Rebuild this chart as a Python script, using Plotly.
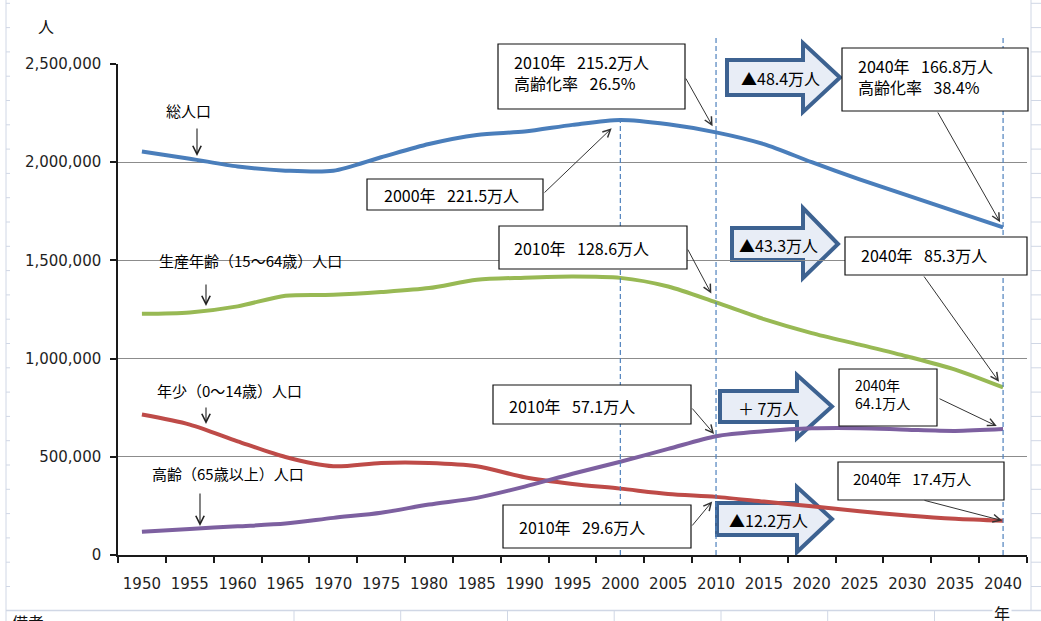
import plotly.graph_objects as go

# ---------------- data ----------------
YEARS = [1950, 1955, 1960, 1965, 1970, 1975, 1980, 1985, 1990, 1995,
         2000, 2005, 2010, 2015, 2020, 2025, 2030, 2035, 2040]
YEAR_LABELS = [str(y) for y in YEARS]
TOTAL = [2054000, 2018000, 1978000, 1957000, 1956000, 2025000, 2093000, 2139000, 2156000, 2190000,
         2215000, 2193000, 2152000, 2092000, 2000000, 1913000, 1831000, 1750000, 1668000]
WORKING = [1228000, 1235000, 1266000, 1320000, 1325000, 1339000, 1359000, 1401000, 1412000, 1418000,
           1411000, 1367000, 1286000, 1201000, 1130000, 1071000, 1011000, 944000, 853000]
YOUTH = [715000, 664000, 579000, 499000, 452000, 469000, 469000, 452000, 396000, 362000,
         338000, 311000, 296000, 272000, 248000, 223000, 201000, 184000, 174000]
ELDERLY = [118000, 133000, 146000, 160000, 189000, 215000, 257000, 291000, 348000, 414000,
           475000, 540000, 605000, 630000, 645000, 646000, 638000, 632000, 641000]
Y_TICKS = [0, 500000, 1000000, 1500000, 2000000, 2500000]

SERIES_NAMES = ["総人口", "生産年齢（15～64歳）人口", "年少（0～14歳）人口", "高齢（65歳以上）人口"]
COLORS = ["#4A7EBB", "#98B954", "#BE4B48", "#7D60A0"]

# ---------------- geometry helpers (decorations only) ----------------
L, R, T, B = 118, 1027, 64, 555
XMIN, XMAX = 1947.5, 2042.5
YMAX = 2500000


def PX(x):
    return (x - L) / (R - L)


def PY(y):
    return (B - y) / (B - T)


def DX(x):
    return XMIN + (x - L) / (R - L) * (XMAX - XMIN)


def DY(y):
    return (B - y) / (B - T) * YMAX


JP = "Noto Sans CJK JP"
NUM = "DejaVu Sans"
SP = "\u2002\u00a0"

fig = go.Figure()
for name, vals, col in zip(SERIES_NAMES, [TOTAL, WORKING, YOUTH, ELDERLY], COLORS):
    fig.add_trace(go.Scatter(x=YEARS, y=vals, mode="lines", name=name,
                             line=dict(color=col, width=4, shape="spline", smoothing=0.8),
                             hoverinfo="skip", showlegend=False))

shapes = []
annotations = []

# spreadsheet cell lines behind the chart
SHEET = "#D0D7E5"
shapes.append(dict(type="line", xref="paper", yref="paper", x0=PX(6), x1=PX(6), y0=PY(0), y1=PY(621),
                   line=dict(color=SHEET, width=1), layer="below"))
shapes.append(dict(type="line", xref="paper", yref="paper", x0=PX(1031), x1=PX(1031), y0=PY(0), y1=PY(610),
                   line=dict(color=SHEET, width=1), layer="below"))
shapes.append(dict(type="line", xref="paper", yref="paper", x0=PX(6), x1=PX(1041), y0=PY(610.5), y1=PY(610.5),
                   line=dict(color=SHEET, width=1.5), layer="below"))
row = 3.3
while row < 609:
    shapes.append(dict(type="line", xref="paper", yref="paper", x0=PX(6), x1=PX(10), y0=PY(row), y1=PY(row),
                       line=dict(color=SHEET, width=1), layer="below"))
    shapes.append(dict(type="line", xref="paper", yref="paper", x0=PX(1031), x1=PX(1041), y0=PY(row), y1=PY(row),
                       line=dict(color=SHEET, width=1), layer="below"))
    row += 24.3
for cx in [294, 400.7, 507.5, 614.2, 721, 827.7, 934.5]:
    shapes.append(dict(type="line", xref="paper", yref="paper", x0=PX(cx), x1=PX(cx), y0=PY(610), y1=PY(621),
                       line=dict(color=SHEET, width=1), layer="below"))

# dashed reference lines
DASH = dict(color="#4F81BD", width=1.2, dash="5px,3px")
i2000 = YEARS.index(2000)
shapes.append(dict(type="line", xref="x", yref="y", x0=2000, x1=2000, y0=0, y1=TOTAL[i2000], line=DASH, layer="above"))
for yr in (2010, 2040):
    shapes.append(dict(type="line", xref="x", yref="paper", x0=yr, x1=yr, y0=0, y1=PY(38), line=DASH, layer="above"))

# white patch behind working-age label (interrupts gridline)
shapes.append(dict(type="rect", xref="paper", yref="paper", x0=PX(142), x1=PX(377), y0=PY(250), y1=PY(270),
                   fillcolor="white", line=dict(width=0), layer="between"))

# block arrows: (body_left, body_right, body_top, body_bottom, head_top, head_bottom, tip_x, text, text_cx)
BLOCKS = [
    (727, 803, 60, 95, 43, 112, 840, "▲48.4万人", 780),
    (732, 803, 228, 260, 208, 278, 838, "▲43.3万人", 778),
    (720, 797, 391, 422, 375, 438, 832, "＋\u00a07万人", 768),
    (717, 797, 503, 535, 487, 552, 832, "▲12.2万人", 768),
]
for bl, br, bt, bb, ht, hb, tx, txt, tcx in BLOCKS:
    ty = (bt + bb) / 2
    pts = [(bl, bt), (br, bt), (br, ht), (tx, ty), (br, hb), (br, bb), (bl, bb)]
    path = "M " + " L ".join(f"{PX(a):.5f},{PY(b):.5f}" for a, b in pts) + " Z"
    shapes.append(dict(type="path", xref="paper", yref="paper", path=path,
                       fillcolor="#E8EDF6", line=dict(color="#3D6291", width=4), layer="between"))
    annotations.append(dict(xref="paper", yref="paper", x=PX(tcx), y=PY(ty + 1), text=txt, showarrow=False,
                            xanchor="center", yanchor="middle", font=dict(family=JP, size=16, color="#000")))

# callout boxes: (x0, x1, y0, y1, text_left, text_cy, text, size)
BOXES = [
    (367, 543, 179, 210, 382, 195, "2000年" + SP + "221.5万人", 16),
    (498, 685, 44, 109, 512, 73, "2010年" + SP + "215.2万人<br>高齢化率" + SP + "26.5%", 16),
    (842, 1028, 48, 111, 856, 76, "2040年" + SP + "166.8万人<br>高齢化率" + SP + "38.4%", 16),
    (499, 687, 226, 269, 512, 248, "2010年" + SP + "128.6万人", 16),
    (845, 1027, 237, 275, 859, 255, "2040年" + SP + "85.3万人", 16),
    (493, 691, 385, 424, 507, 406, "2010年" + SP + "57.1万人", 16),
    (839, 937, 369, 426, 853, 394, "2040年<br>64.1万人", 14),
    (838, 1004, 462, 500, 851, 478, "2040年\u00a0\u2002" + "17.4万人", 15),
    (503, 691, 505, 548, 517, 527, "2010年" + SP + "29.6万人", 16),
]
for x0, x1, y0, y1, tl, tcy, txt, fs in BOXES:
    shapes.append(dict(type="rect", xref="paper", yref="paper", x0=PX(x0), x1=PX(x1), y0=PY(y0), y1=PY(y1),
                       fillcolor="white", line=dict(color="#111", width=1.2), layer="above"))
    annotations.append(dict(xref="paper", yref="paper", x=PX(tl), y=PY(tcy), text=txt, showarrow=False,
                            xanchor="left", yanchor="middle", align="left",
                            font=dict(family=JP, size=fs, color="#000")))

# callout arrows to data points: (year, series, tail_x, tail_y, standoff)
CALLOUTS = [
    (2000, TOTAL, 543, 194, 12),
    (2010, TOTAL, 685, 77, 7),
    (2040, TOTAL, 937, 111, 6),
    (2010, WORKING, 687, 248, 10),
    (2040, WORKING, 923, 275, 7),
    (2010, ELDERLY, 691, 407, 3),
    (2040, ELDERLY, 938, 398, 7),
    (2040, YOUTH, 923, 500, 1),
    (2010, YOUTH, 691, 527, 6),
]
for yr, ser, tx, ty, so in CALLOUTS:
    annotations.append(dict(xref="x", yref="y", x=yr, y=ser[YEARS.index(yr)], axref="x", ayref="y",
                            ax=DX(tx), ay=DY(ty), text="", showarrow=True, arrowhead=5, arrowsize=1.5,
                            arrowwidth=1, arrowcolor="#333", standoff=so))

# series labels with short down arrows: (text_cx, text_cy, arrow_x, arrow_top, arrow_tip)
LABEL_POS = [
    (188, 110, 197, 127, 156),
    (250, 260, 206, 283, 306),
    (229, 390, 206, 406, 424),
    (228, 473, 200, 492, 526),
]
for name, (cx, cy, axx, atop, atip) in zip(SERIES_NAMES, LABEL_POS):
    annotations.append(dict(xref="paper", yref="paper", x=PX(cx), y=PY(cy), text=name, showarrow=False,
                            xanchor="center", yanchor="middle", font=dict(family=JP, size=15, color="#000")))
    annotations.append(dict(xref="paper", yref="paper", x=PX(axx), y=PY(atip), ax=0, ay=-(atip - atop),
                            text="", showarrow=True, arrowhead=5, arrowsize=1.5, arrowwidth=1.1,
                            arrowcolor="#222"))

# axis titles and sheet text
annotations.append(dict(xref="paper", yref="paper", x=PX(46), y=PY(26), text="人", showarrow=False,
                        xanchor="center", yanchor="middle", font=dict(family=JP, size=16, color="#111")))
annotations.append(dict(xref="paper", yref="paper", x=PX(1002), y=PY(613), text="年", showarrow=False,
                        xanchor="center", yanchor="middle", bgcolor="white",
                        font=dict(family=JP, size=16, color="#111")))
annotations.append(dict(xref="paper", yref="paper", x=PX(10), y=PY(622), text="備考", showarrow=False,
                        xanchor="left", yanchor="middle", font=dict(family=JP, size=16, color="#111")))

fig.update_layout(
    width=1041, height=621,
    margin=dict(l=L, r=1041 - R, t=T, b=621 - B, pad=0),
    paper_bgcolor="white", plot_bgcolor="white",
    shapes=shapes, annotations=annotations,
    xaxis=dict(range=[XMIN, XMAX], tickmode="array", tickvals=YEARS, ticktext=YEAR_LABELS,
               ticks="", showgrid=False, zeroline=False, showline=True, linecolor="#1a1a1a", linewidth=1.5,
               tickfont=dict(family=NUM, size=15, color="#1f1f1f"), ticklabelstandoff=14,
               minor=dict(tick0=XMIN, dtick=5, ticks="outside", ticklen=6, tickwidth=1.5, tickcolor="#1a1a1a",
                          showgrid=False)),
    yaxis=dict(range=[0, YMAX], tickmode="array", tickvals=Y_TICKS, tickformat=",d",
               ticks="outside", ticklen=6, tickwidth=1.5, tickcolor="#1a1a1a",
               showgrid=True, gridcolor="#8C8C8C", gridwidth=1, zeroline=False,
               showline=True, linecolor="#1a1a1a", linewidth=1.5,
               tickfont=dict(family=NUM, size=15, color="#1f1f1f"), ticklabelstandoff=6),
    font=dict(family=JP),
)

fig.write_html("out.html")
